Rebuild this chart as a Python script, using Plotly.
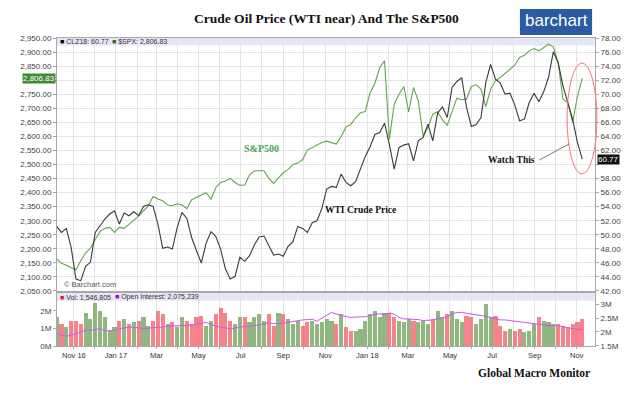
import pandas as pd
import plotly.graph_objects as go

# ---------------- data (weekly samples) ----------------
dates = pd.date_range("2016-10-07", periods=110, freq="7D")

sp500 = [2163.7, 2148.3, 2141.2, 2134.1, 2125.8, 2157.8, 2185.1, 2202.8, 2232.5, 2262.1,
         2272.7, 2276.3, 2258.5, 2276.3, 2272.7, 2287.0, 2304.7, 2316.6, 2335.5, 2352.1,
         2386.5, 2377.0, 2371.1, 2355.7, 2353.3, 2360.4, 2355.7, 2342.6, 2374.6, 2382.9,
         2391.2, 2399.5, 2377.0, 2417.3, 2436.2, 2441.0, 2450.5, 2436.2, 2425.6, 2426.8,
         2463.5, 2477.7, 2477.7, 2477.7, 2450.5, 2432.7, 2452.8, 2470.6, 2482.5, 2500.2,
         2505.0, 2516.8, 2551.2, 2559.5, 2568.9, 2578.4,
         2583.2, 2578.4, 2572.5, 2599.7, 2632.9, 2642.4, 2666.1, 2683.9, 2688.6, 2755.0,
         2789.3, 2845.0, 2868.7, 2590.3, 2714.7, 2750.2, 2777.5, 2687.4, 2773.9, 2726.5,
         2602.1, 2631.7, 2679.1, 2687.4, 2659.0, 2640.0, 2687.4, 2736.0, 2730.1, 2732.4,
         2777.5, 2783.4, 2768.0, 2706.4, 2768.0, 2797.6, 2809.5, 2824.9, 2839.1, 2853.3,
         2880.5, 2888.8, 2904.2, 2912.5, 2904.2, 2916.1, 2927.9, 2918.5, 2862.8, 2732.4,
         2720.6, 2649.5, 2741.9, 2806.83]

wti = [51.19, 50.34, 50.91, 48.21, 43.71, 43.47, 45.51, 46.08, 50.34, 51.29,
       52.24, 52.95, 53.42, 51.53, 53.09, 52.71, 53.28, 52.71, 54.04, 54.27,
       54.04, 51.53, 48.07, 48.26, 47.97, 51.05, 53.18, 52.33, 49.58, 47.73,
       45.98, 48.82, 50.44, 49.77, 47.97, 45.13, 43.71, 44.09, 46.79, 46.22,
       47.02, 48.54, 49.68, 49.82, 48.54, 47.12, 47.26, 46.93, 48.35, 49.01,
       51.19, 50.91, 50.34, 51.71, 52.00, 53.75,
       56.50, 56.88, 56.74, 58.63, 57.45, 56.98, 57.54, 59.35, 61.15, 62.52,
       64.27, 64.56, 65.88, 62.85, 59.35, 62.42, 62.76, 62.95, 60.53, 63.37,
       63.85, 65.74, 63.37, 67.31, 68.21, 66.69, 70.96, 71.81, 72.33, 68.11,
       65.41, 65.70, 66.69, 71.67, 74.23, 72.14, 71.57, 70.01, 70.15, 68.49,
       66.22, 66.45, 68.82, 70.15, 68.92, 70.34, 72.38, 76.03, 74.51, 71.19,
       68.82, 66.45, 63.14, 60.77]

volume_m = [1.63, 1.25, 1.07, 1.44, 1.44, 1.25, 1.90, 1.53, 2.47, 2.00,
            1.63, 0.88, 1.07, 1.44, 1.53, 1.25, 1.35, 1.44, 1.63, 1.16,
            1.44, 2.00, 1.81, 1.25, 1.35, 1.07, 1.63, 1.44, 1.25, 1.63,
            1.72, 1.16, 1.44, 1.81, 2.19, 1.90, 1.44, 1.25, 1.63, 1.63,
            1.35, 1.63, 1.81, 1.44, 1.81, 1.16, 1.90, 1.81, 1.53, 1.25,
            1.44, 1.16, 1.35, 1.44, 1.25, 1.35, 1.53,
            1.44, 1.25, 1.81, 1.07, 0.88, 0.88, 0.97, 1.44, 1.81, 2.00,
            1.63, 1.90, 1.90, 1.63, 1.44, 1.35, 1.53, 1.44, 1.35, 1.44,
            1.25, 1.53, 2.00, 1.63, 1.81, 2.00, 1.53, 1.35, 1.72, 1.63,
            1.25, 1.53, 2.37, 1.63, 1.72, 1.16, 0.88, 0.97, 0.88, 0.97,
            0.79, 0.88, 1.25, 1.63, 1.44, 1.35, 1.25, 1.25, 1.16, 1.07,
            1.25, 1.35, 1.55]

open_interest_m = [1.939, 1.903, 1.844, 1.880, 1.939, 1.998, 2.057, 2.057, 2.081, 2.116,
                   2.033, 2.033, 2.057, 2.116, 2.152, 2.175, 2.175, 2.140, 2.116, 2.140,
                   2.152, 2.152, 2.175, 2.211, 2.211, 2.222, 2.211, 2.234, 2.258, 2.293,
                   2.317, 2.341, 2.270, 2.199, 2.175, 2.152, 2.116, 2.140, 2.175, 2.199,
                   2.199, 2.222, 2.258, 2.293, 2.329, 2.317, 2.293, 2.317, 2.352, 2.388,
                   2.412, 2.435, 2.447, 2.459, 2.388, 2.494, 2.589,
                   2.707, 2.648, 2.589, 2.553, 2.530, 2.530, 2.530, 2.553, 2.589, 2.648,
                   2.648, 2.648, 2.683, 2.648, 2.530, 2.471, 2.471, 2.471, 2.447, 2.412,
                   2.412, 2.435, 2.471, 2.506, 2.553, 2.648, 2.707, 2.707, 2.683, 2.648,
                   2.613, 2.589, 2.565, 2.530, 2.471, 2.435, 2.435, 2.412, 2.388, 2.364,
                   2.341, 2.317, 2.293, 2.270, 2.258, 2.234, 2.234, 2.222, 2.199, 2.152,
                   2.116, 2.092, 2.075]

month_ticks = pd.date_range("2016-11-01", "2018-11-01", freq="MS")
month_labels = ["Nov 16", "", "Jan 17", "", "Mar", "", "May", "", "Jul", "", "Sep", "",
                "Nov", "", "Jan 18", "", "Mar", "", "May", "", "Jul", "", "Sep", "", "Nov"]

sp_ticks = list(range(2050, 2951, 50))
sp_labels = ["" if v == 2800 else f"{v:,.2f}" for v in sp_ticks]
oil_ticks = list(range(42, 79, 2))
oil_labels = ["" if v == 60 else f"{v:.2f}" for v in oil_ticks]

# ---------------- styling ----------------
GREEN = "#62a64e"
BLACK = "#3a3a3a"
GRID = "#e4e4e4"
AXIS = "#a8a8a8"
SANS = "Liberation Sans"
SERIF = "Liberation Serif"

vol = [v * 1e6 for v in volume_m]
oi = [v * 1e6 for v in open_interest_m]
bar_colors = ["rgba(115,165,95,0.8)" if i == 0 or wti[i] >= wti[i - 1]
              else "rgba(242,100,110,0.8)" for i in range(len(wti))]

fig = go.Figure()
fig.add_trace(go.Bar(x=dates, y=vol, marker=dict(color=bar_colors, line=dict(width=0)),
                     width=6 * 86400000, xaxis="x2", yaxis="y3", showlegend=False))
fig.add_trace(go.Scatter(x=dates, y=oi, mode="lines", line=dict(color="#cc55ee", width=1),
                         xaxis="x2", yaxis="y4", showlegend=False))
fig.add_trace(go.Scatter(x=dates, y=sp500, mode="lines", line=dict(color=GREEN, width=1.1),
                         xaxis="x", yaxis="y", showlegend=False))
fig.add_trace(go.Scatter(x=dates, y=wti, mode="lines", line=dict(color=BLACK, width=1.1),
                         xaxis="x", yaxis="y2", showlegend=False))

xrange = ["2016-10-07 12:00", "2018-11-27 12:00"]
tickfont = dict(family=SANS, size=8, color="#444")

MAIN_DOM = [0.1786, 1]
VOL_DOM = [0, 0.1725]

# the page body has an 8px margin, so the figure is placed 8px right/down in the window
fig.update_layout(
    width=632, height=386,
    margin=dict(l=28, r=45, t=30, b=48),
    paper_bgcolor="white", plot_bgcolor="white",
    bargap=0,
    xaxis=dict(domain=[0, 1], anchor="y", range=xrange, tickvals=month_ticks,
               showticklabels=False, showgrid=True, gridcolor=GRID, gridwidth=1,
               showline=True, linecolor=AXIS, mirror=True, zeroline=False, ticks=""),
    xaxis2=dict(domain=[0, 1], anchor="y3", range=xrange, tickvals=month_ticks,
                ticktext=month_labels, tickfont=dict(family=SANS, size=7.5, color="#333"),
                showgrid=True, gridcolor=GRID, gridwidth=1, ticks="outside", ticklen=2,
                tickcolor=AXIS, showline=True, linecolor=AXIS, mirror=True, zeroline=False),
    yaxis=dict(domain=MAIN_DOM, anchor="x", range=[2050, 2950], tickvals=sp_ticks,
               ticktext=sp_labels, tickfont=tickfont, showgrid=True, gridcolor=GRID,
               ticks="outside", ticklen=3, tickcolor=AXIS, showline=True, linecolor=AXIS,
               zeroline=False),
    yaxis2=dict(overlaying="y", side="right", anchor="x", range=[42, 78], tickvals=oil_ticks,
                ticktext=oil_labels, tickfont=tickfont, showgrid=False, ticks="outside",
                ticklen=3, tickcolor=AXIS, showline=True, linecolor=AXIS, zeroline=False),
    yaxis3=dict(domain=VOL_DOM, anchor="x2", range=[0, 3.02e6], tickvals=[0, 1e6, 2e6],
                ticktext=["0M", "1M", "2M"], tickfont=tickfont, showgrid=False,
                ticks="outside", ticklen=3, tickcolor=AXIS, showline=True, linecolor=AXIS,
                zeroline=False),
    yaxis4=dict(overlaying="y3", side="right", anchor="x2", range=[1.49e6, 3.415e6],
                tickvals=[1.5e6, 2e6, 2.5e6, 3e6], ticktext=["1.5M", "2M", "2.5M", "3M"],
                tickfont=tickfont, showgrid=False, ticks="outside", ticklen=3,
                tickcolor=AXIS, showline=True, linecolor=AXIS, zeroline=False),
)

# helpers: window pixel -> paper coordinates of the plot area (36..595, 38..346)
def px_x(px):
    return (px - 36) / 559.0

def px_y(py):
    return (346 - py) / 308.0

shapes = [
    dict(type="rect", xref="paper", yref="paper", x0=0, x1=1, y0=px_y(45.5), y1=1,
         fillcolor="#e6e6f8", line=dict(width=0), layer="below"),
    dict(type="rect", xref="paper", yref="paper", x0=0, x1=1, y0=px_y(300.7), y1=VOL_DOM[1],
         fillcolor="#e6e6f8", line=dict(width=0), layer="below"),
    dict(type="rect", xref="paper", yref="paper", x0=px_x(517), x1=px_x(592),
         y0=px_y(35), y1=px_y(9), fillcolor="#2c5aa0", line=dict(width=0)),
    dict(type="circle", xref="paper", yref="paper", x0=px_x(566), x1=px_x(597),
         y0=px_y(174), y1=px_y(63), line=dict(color="#f07878", width=1)),
    dict(type="line", xref="paper", yref="paper", x0=px_x(537), y0=px_y(160),
         x1=px_x(568), y1=px_y(144), line=dict(color="#555", width=0.8)),
]

def ann(text, x, y, size, color="#222", family=SANS, xanchor="center", **kw):
    return dict(text=text, x=x, y=y, xref="paper", yref="paper", showarrow=False,
                xanchor=xanchor, yanchor="middle", font=dict(family=family, size=size, color=color), **kw)

annotations = [
    ann("<b>Crude Oil Price (WTI near) And The S&P500</b>", px_x(316), px_y(18), 13.5, "#111", SERIF),
    ann("barchart", px_x(554.5), px_y(21), 17, "white", SANS),
    ann('<span style="color:#000">■</span> CLZ18: 60.77', px_x(37), px_y(41.3), 7, "#333", xanchor="left"),
    ann('<span style="color:#2e6b1e">■</span> $SPX: 2,806.83', px_x(91), px_y(41.3), 7, "#333", xanchor="left"),
    ann('<span style="color:#e0202a">■</span> Vol: 1,546,805', px_x(37), px_y(297), 7, "#333", xanchor="left"),
    ann('<span style="color:#9900cc">■</span> Open Interest: 2,075,239', px_x(94), px_y(297), 7, "#333", xanchor="left"),
    ann("© Barchart.com", px_x(41), px_y(284.5), 7.5, "#555", xanchor="left"),
    ann("<b>S&P500</b>", px_x(249), px_y(148), 10, "#4aa85a", SERIF),
    ann("<b>WTI Crude Price</b>", px_x(351), px_y(210), 9.5, "#111", SERIF),
    ann("<b>Watch This</b>", px_x(508), px_y(160), 9.5, "#111", SERIF),
    ann("<b>Global Macro Monitor</b>", px_x(532), px_y(373), 11.5, "#111", SERIF),
    dict(text="2,806.83", x=0, y=2806.83, xref="paper", yref="y", showarrow=False,
         xanchor="right", yanchor="middle", bgcolor="#3f8a34", borderpad=0,
         font=dict(family=SANS, size=8, color="white"), xshift=-1),
    dict(text="60.77", x=1, y=60.77, xref="paper", yref="y2", showarrow=False,
         xanchor="left", yanchor="middle", bgcolor="#111", borderpad=0,
         font=dict(family=SANS, size=8, color="white"), xshift=2),
]

fig.update_layout(shapes=shapes, annotations=annotations)
fig.write_html("out.html")
